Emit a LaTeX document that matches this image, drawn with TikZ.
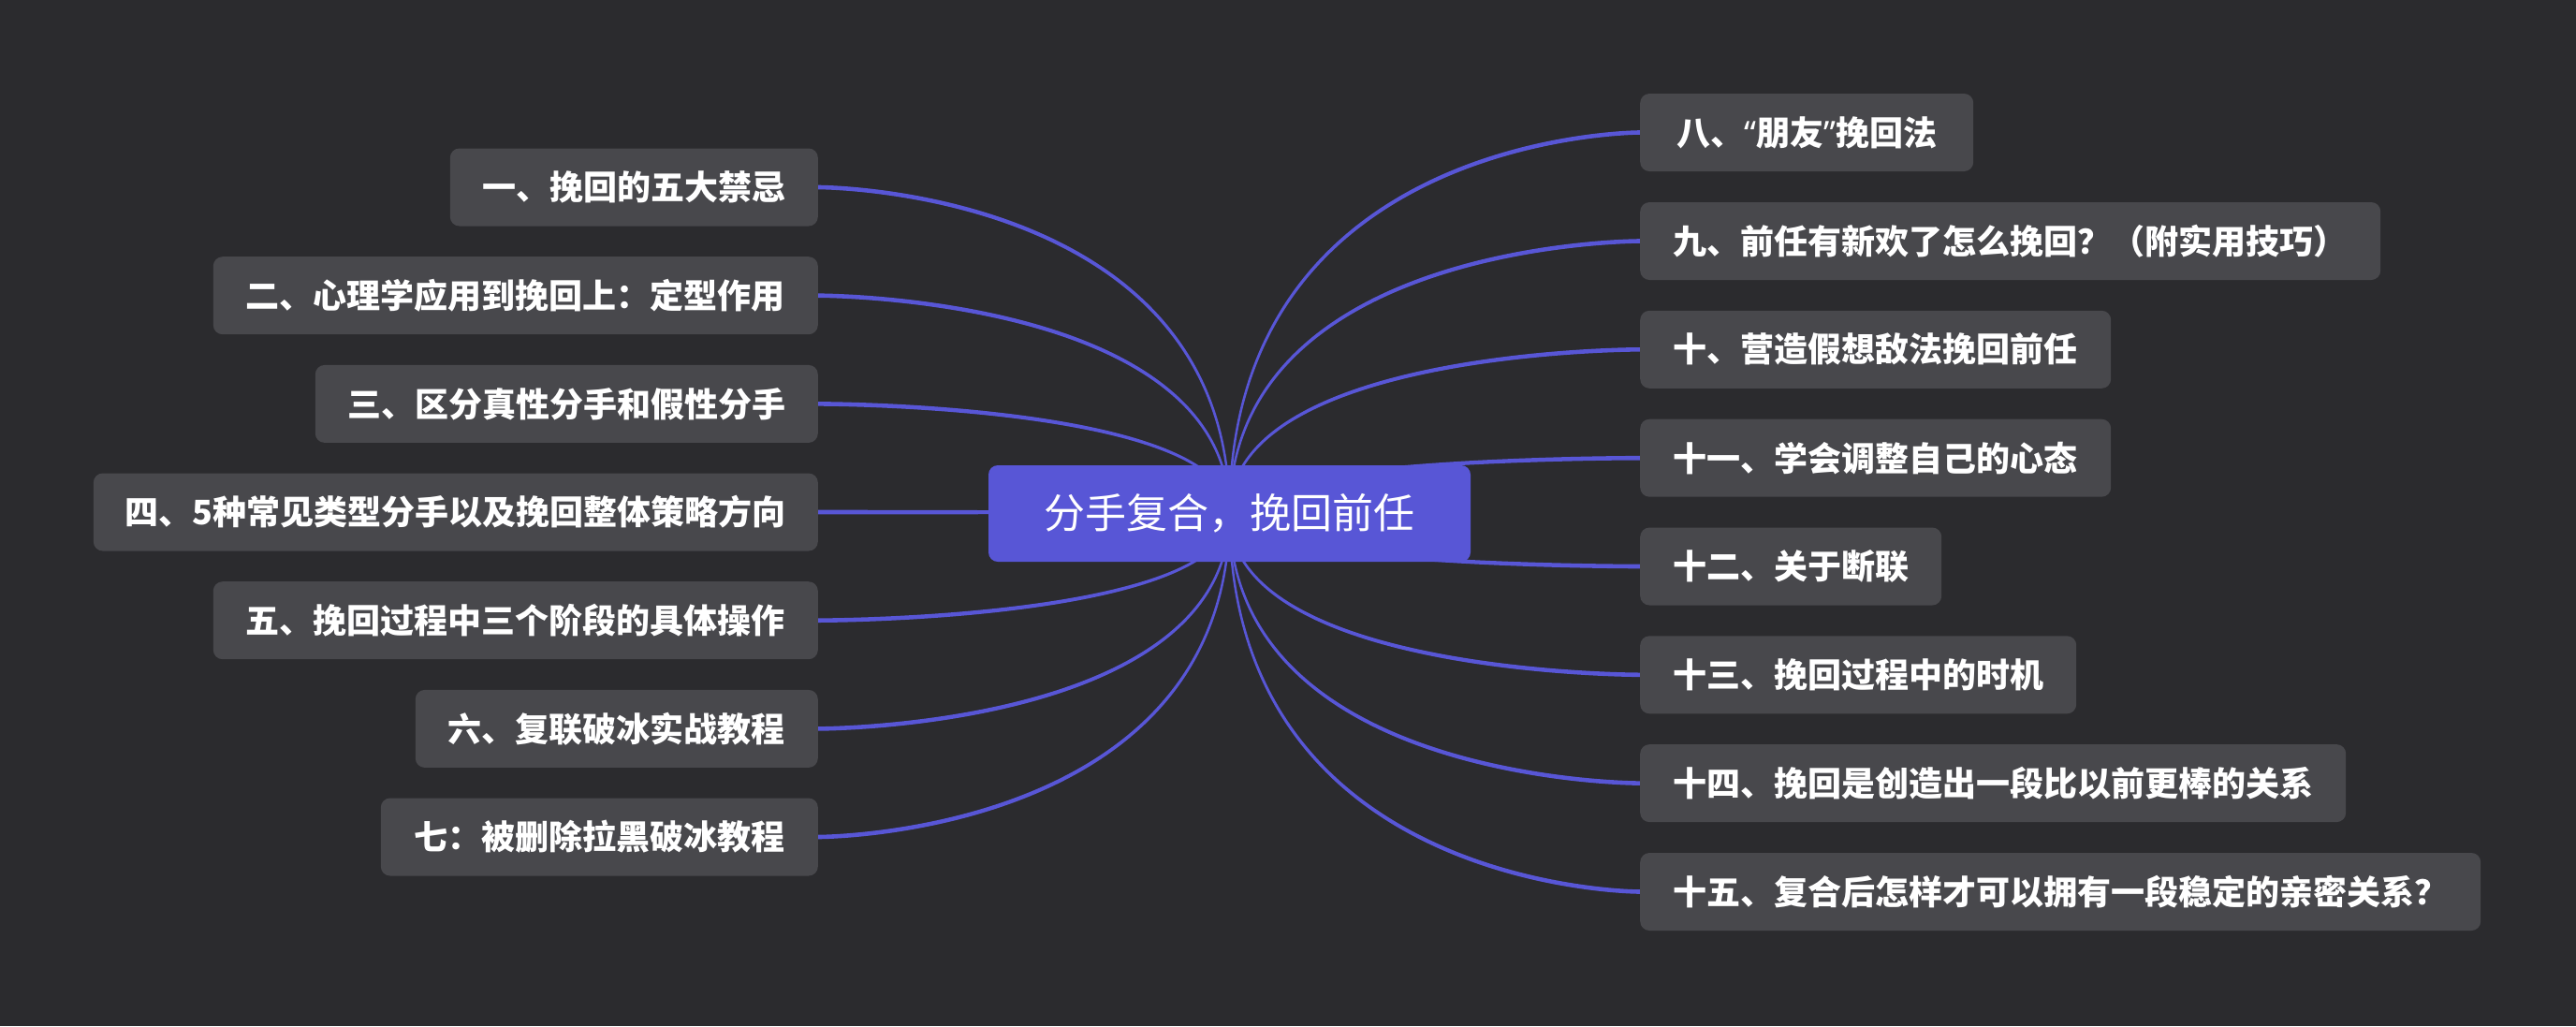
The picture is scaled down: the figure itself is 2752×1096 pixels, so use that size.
\documentclass[tikz,border=0pt]{standalone}
\usepackage{fontspec}
\setmainfont{Noto Sans CJK SC}
\newfontfamily\qfont{Noto Sans}
\usetikzlibrary{calc}
\definecolor{bgc}{HTML}{2B2B2E}
\definecolor{nodec}{HTML}{48484C}
\definecolor{indig}{HTML}{5856D6}
\pgfdeclarelayer{backlayer}
\pgfdeclarelayer{linelayer}
\pgfsetlayers{backlayer,linelayer,main}
\begin{document}
\begin{tikzpicture}[x=1pt,y=-1pt,
  leaf/.style={fill=nodec, rounded corners=10pt, text=white,
    font=\fontsize{36}{43}\selectfont\bfseries, minimum height=83pt,
    inner xsep=20pt, inner ysep=0pt},
  lnode/.style={leaf, anchor=east},
  rnode/.style={leaf, anchor=west},
  root/.style={fill=indig, rounded corners=10pt, text=white,
    font=\fontsize{44}{52}\selectfont, minimum width=515pt, minimum height=103pt,
    inner sep=0pt},
  conn/.style={fill=indig}]
\begin{pgfonlayer}{backlayer}
\fill[bgc] (0,0) rectangle (2752,1096);
\end{pgfonlayer}
\useasboundingbox (0,0) rectangle (2752,1096);

\node[root] (c) at (1313.5,548.5) {分手复合，挽回前任};

\node[lnode, minimum width=393pt] (n1) at (874,200) {一、挽回的五大禁忌};
\node[lnode, minimum width=646pt] (n2) at (874,315.7) {二、心理学应用到挽回上：定型作用};
\node[lnode, minimum width=537pt] (n3) at (874,431.4) {三、区分真性分手和假性分手};
\node[lnode, minimum width=774pt] (n4) at (874,547) {四、5种常见类型分手以及挽回整体策略方向};
\node[lnode, minimum width=646pt] (n5) at (874,662.7) {五、挽回过程中三个阶段的具体操作};
\node[lnode, minimum width=430pt] (n6) at (874,778.4) {六、复联破冰实战教程};
\node[lnode, minimum width=467pt] (n7) at (874,894) {七：被删除拉黑破冰教程};

\node[rnode, minimum width=356pt] (n8) at (1752,141.5) {八、{\qfont “}朋友{\qfont ”}挽回法};
\node[rnode, minimum width=791pt] (n9) at (1752,257.5) {九、前任有新欢了怎么挽回？（附实用技巧）};
\node[rnode, minimum width=503pt] (n10) at (1752,373.3) {十、营造假想敌法挽回前任};
\node[rnode, minimum width=503pt] (n11) at (1752,489.2) {十一、学会调整自己的心态};
\node[rnode, minimum width=322pt] (n12) at (1752,605) {十二、关于断联};
\node[rnode, minimum width=466pt] (n13) at (1752,720.8) {十三、挽回过程中的时机};
\node[rnode, minimum width=754pt] (n14) at (1752,836.6) {十四、挽回是创造出一段比以前更棒的关系};
\node[rnode, minimum width=898pt] (n15) at (1752,952.5) {十五、复合后怎样才可以拥有一段稳定的亲密关系？};

\begin{pgfonlayer}{linelayer}
\foreach \i/\a/\sg in {1/east/1,2/east/1,3/east/1,4/east/1,5/east/-1,6/east/-1,7/east/-1,
  8/west/-1,9/west/-1,10/west/-1,11/west/-1,12/west/1,13/west/1,14/west/1,15/west/1}{
  \fill[conn] let \p0=(c.center), \p3=(n\i.\a),
    \n1={\y3-(\sg*2.3pt)}, \n2={\y3+(\sg*2.3pt)} in
    ({\x0-1.2pt},\y0) .. controls ({\x0-1.2pt},\n1) and (\x3,\n1) .. (\x3,\n1)
    -- (\x3,\n2) .. controls (\x3,\n2) and ({\x0+1.2pt},\n2) .. ({\x0+1.2pt},\y0)
    -- cycle;
}
\end{pgfonlayer}
\end{tikzpicture}
\end{document}
